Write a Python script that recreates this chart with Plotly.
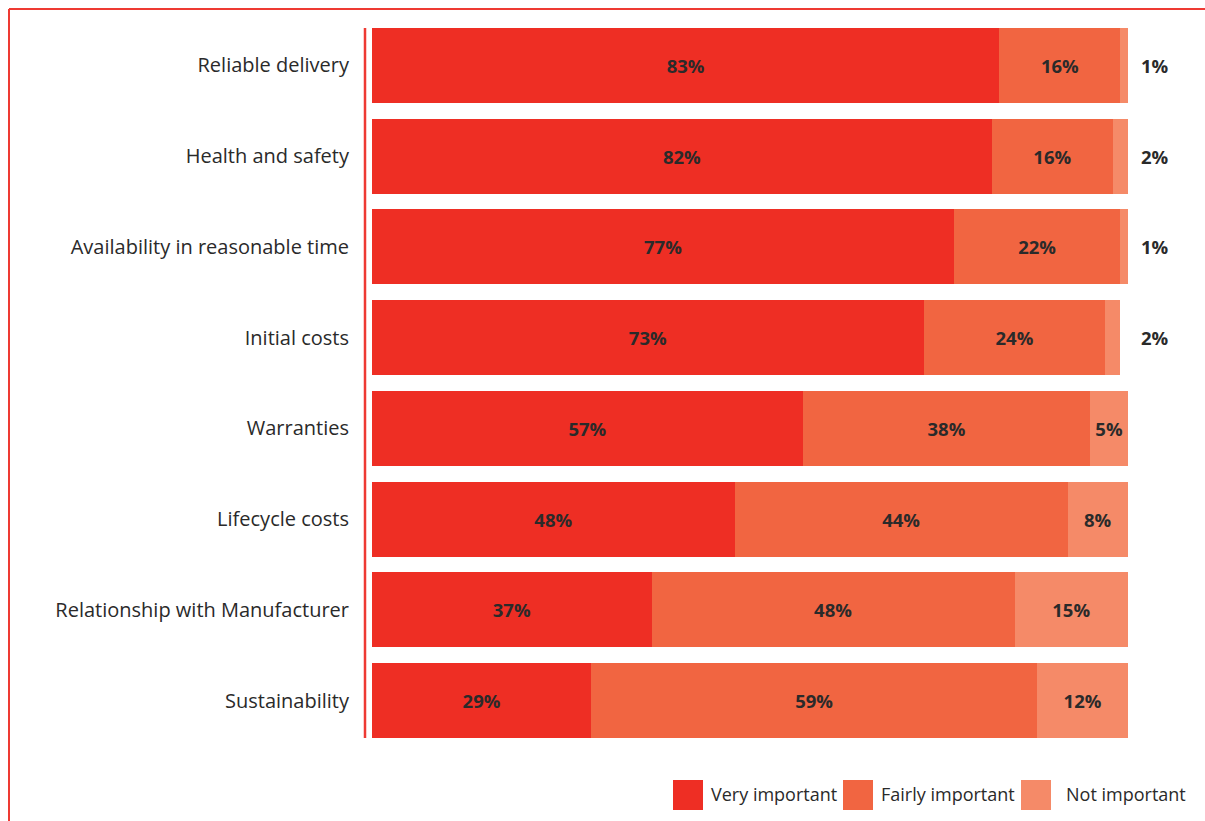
import plotly.graph_objects as go

# Survey results: importance of factors (percent of respondents)
factors = [
    "Reliable delivery",
    "Health and safety",
    "Availability in reasonable time",
    "Initial costs",
    "Warranties",
    "Lifecycle costs",
    "Relationship with Manufacturer",
    "Sustainability",
]
very_important = [83, 82, 77, 73, 57, 48, 37, 29]
fairly_important = [16, 16, 22, 24, 38, 44, 48, 59]
not_important = [1, 2, 1, 2, 5, 8, 15, 12]

series_names = ["Very important", "Fairly important", "Not important"]
series_colors = ["#EE2E24", "#F16541", "#F58A68"]

W, H = 1205, 821
M_L, M_R, M_T, M_B = 372, 77, 20, 75
PW, PH = W - M_L - M_R, H - M_T - M_B


def px_x(x):
    return (x - M_L) / PW


def px_y(y):
    return (H - M_B - y) / PH


FAMILY = "Open Sans, Lato, sans-serif"
LABEL_FONT = dict(family=FAMILY, size=18.5, color="#2A2A2A")

fig = go.Figure()
for name, vals, col in zip(series_names,
                           [very_important, fairly_important, not_important],
                           series_colors):
    # values too small to fit inside the bar are written to the right instead
    texts = [f"<b>{v}%</b>" if v >= 5 else "" for v in vals]
    fig.add_trace(go.Bar(
        name=name, y=factors, x=vals, orientation="h",
        marker=dict(color=col, line=dict(width=0)),
        text=texts, textposition="inside", insidetextanchor="middle",
        textfont=LABEL_FONT, constraintext="none",
        hoverinfo="skip", showlegend=False,
    ))

annotations = []
for f, v in zip(factors, not_important):
    if v < 5:
        annotations.append(dict(
            x=px_x(1155), xref="paper", y=f, yref="y", text=f"<b>{v}%</b>",
            showarrow=False, font=LABEL_FONT, xanchor="center", yanchor="middle",
        ))

shapes = []
# frame lines along the top and left edge
shapes.append(dict(type="line", xref="paper", yref="paper",
                   x0=px_x(9), x1=px_x(W + 5), y0=px_y(9), y1=px_y(9),
                   line=dict(color="#EE3A33", width=2)))
shapes.append(dict(type="line", xref="paper", yref="paper",
                   x0=px_x(9), x1=px_x(9), y0=px_y(9), y1=px_y(H + 5),
                   line=dict(color="#EE3A33", width=2)))
# vertical axis rule beside the bars
shapes.append(dict(type="line", xref="paper", yref="paper",
                   x0=px_x(365), x1=px_x(365), y0=px_y(28), y1=px_y(738),
                   line=dict(color="#EE3A33", width=2.5)))

# legend: coloured squares followed by their names
legend_items = [(673, 709), (843, 879), (1021, 1064)]
for (sx, tx), name, col in zip(legend_items, series_names, series_colors):
    shapes.append(dict(type="rect", xref="paper", yref="paper",
                       x0=px_x(sx), x1=px_x(sx + 30), y0=px_y(810), y1=px_y(780),
                       fillcolor=col, line=dict(width=0)))
    annotations.append(dict(x=px_x(tx), xref="paper", y=px_y(794), yref="paper",
                            text=name, showarrow=False, xanchor="left", yanchor="middle",
                            font=dict(family=FAMILY, size=18, color="#2A2A2A")))

fig.update_layout(
    barmode="stack",
    bargap=0.173,
    width=W, height=H,
    margin=dict(l=M_L, r=M_R, t=M_T, b=M_B, autoexpand=False),
    paper_bgcolor="white", plot_bgcolor="white",
    xaxis=dict(range=[0, 100], visible=False, fixedrange=True),
    yaxis=dict(categoryorder="array", categoryarray=factors, autorange="reversed",
               showgrid=False, showline=False, zeroline=False,
               ticks="outside", ticklen=18, tickcolor="rgba(0,0,0,0)",
               tickfont=dict(family=FAMILY, size=20, color="#2A2A2A")),
    shapes=shapes,
    annotations=annotations,
    uniformtext=dict(mode=False),
)

fig.write_html("out.html")
